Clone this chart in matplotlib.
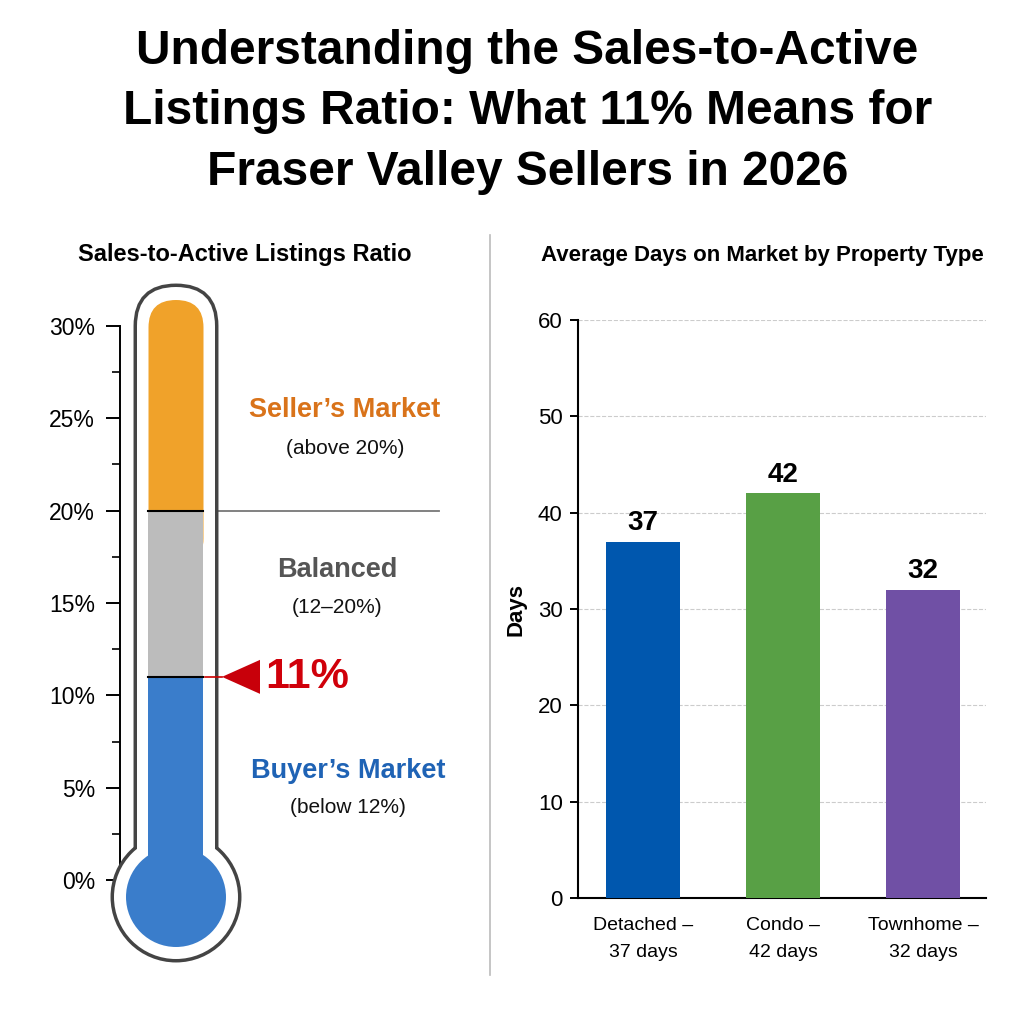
import matplotlib
matplotlib.use('Agg')
import matplotlib.pyplot as plt
from matplotlib.patches import FancyBboxPatch, Circle, Rectangle, Polygon
from matplotlib.lines import Line2D

plt.rcParams['font.family'] = ['Liberation Sans Narrow', 'Liberation Sans', 'DejaVu Sans']

# datos
ratio_actual = 11
zona_comprador = 12
zona_vendedor = 20
escala_max = 30
ticks_ratio = [0, 5, 10, 15, 20, 25, 30]

tipos = ['Detached –\n37 days', 'Condo –\n42 days', 'Townhome –\n32 days']
dias = [37, 42, 32]
colores = ['#0057ae', '#58a045', '#7050a5']
ticks_dias = [0, 10, 20, 30, 40, 50, 60]

fig = plt.figure(figsize=(10.24, 10.24), dpi=100)
fig.patch.set_facecolor('white')


def caja(x0, y0, x1, y1):
    # pixeles -> fraccion de figura
    return [x0 / 1024, 1 - y1 / 1024, (x1 - x0) / 1024, (y1 - y0) / 1024]


fig.text(0.515, 1 - 112 / 1024,
         'Understanding the Sales-to-Active\nListings Ratio: What 11% Means for\nFraser Valley Sellers in 2026',
         ha='center', va='center', fontsize=34.5, fontweight='bold', linespacing=1.44,
         family=['Liberation Sans', 'DejaVu Sans'])

# ---------------- termometro ----------------
ax = fig.add_axes(caja(40, 270, 470, 970))
px = 1 / 18.467  # unidades por pixel
ax.set_xlim(-80 * px, 350 * px)
ax.set_ylim(-90 * px, escala_max + 56 * px)
for s in ['top', 'right', 'bottom']:
    ax.spines[s].set_visible(False)
ax.spines['left'].set_position(('data', 0))
ax.spines['left'].set_bounds(0, escala_max)
ax.spines['left'].set_linewidth(1.4)
ax.set_xticks([])
ax.set_yticks(ticks_ratio)
ax.set_yticklabels([f'{t}%' for t in ticks_ratio], fontsize=16.5)
ax.set_yticks([t + 2.5 for t in ticks_ratio[:-1]], minor=True)
ax.tick_params(axis='y', which='major', length=10, width=1.4, pad=8)
ax.tick_params(axis='y', which='minor', length=6, width=1.2)

cx = 56 * px
cy_bulbo = -17 * px
medio_ext = 39 * px
medio_int = 27.5 * px
tope_ext = escala_max + 39 * px
tope_int = escala_max + 26 * px
r_ext = 62 * px
r_int = 50 * px

# contorno: trazo grueso y luego relleno blanco encima
tubo = dict(xy=(cx - medio_ext, cy_bulbo), width=2 * medio_ext, height=tope_ext - cy_bulbo,
            boxstyle=f'round,pad=0,rounding_size={medio_ext}')
ax.add_patch(FancyBboxPatch(**tubo, facecolor='white', edgecolor='#444444', lw=5, zorder=3))
ax.add_patch(Circle((cx, cy_bulbo), r_ext, facecolor='white', edgecolor='#444444', lw=5, zorder=3))
ax.add_patch(FancyBboxPatch(**tubo, facecolor='white', edgecolor='none', zorder=3.2))
ax.add_patch(Circle((cx, cy_bulbo), r_ext, facecolor='white', edgecolor='none', zorder=3.2))

# relleno por zonas
ax.add_patch(FancyBboxPatch((cx - medio_int, zona_vendedor - 3), 2 * medio_int, tope_int - zona_vendedor + 3,
                            boxstyle=f'round,pad=0,rounding_size={medio_int}',
                            facecolor='#f0a22a', edgecolor='none', zorder=4))
ax.add_patch(Rectangle((cx - medio_int, ratio_actual), 2 * medio_int, zona_vendedor - ratio_actual,
                       facecolor='#bcbcbc', edgecolor='none', zorder=5))
ax.add_patch(Rectangle((cx - medio_int, cy_bulbo), 2 * medio_int, ratio_actual - cy_bulbo,
                       facecolor='#3a7dcb', edgecolor='none', zorder=5))
ax.add_patch(Circle((cx, cy_bulbo), r_int, facecolor='#3a7dcb', edgecolor='none', zorder=5))
for nivel in [zona_vendedor, ratio_actual]:
    ax.plot([cx - medio_int, cx + medio_int], [nivel, nivel], color='black', lw=1.5, zorder=6)

# linea de 20%
ax.plot([97 * px, 319 * px], [zona_vendedor, zona_vendedor], color='#777777', lw=1.3, zorder=2)

# marcador del valor actual
ax.plot([85 * px, 102 * px], [ratio_actual, ratio_actual], color='#cc0000', lw=1.2, zorder=6)
ax.add_patch(Polygon([(102 * px, ratio_actual), (140 * px, ratio_actual + 17 * px),
                      (140 * px, ratio_actual - 17 * px)], closed=True,
                     facecolor='#c8000a', edgecolor='none', zorder=6))
ax.text(145 * px, ratio_actual, f'{ratio_actual}%', color='#d0000a', fontsize=31,
        fontweight='bold', ha='left', va='center')

xt = 225 * px
ax.text(xt, 25.45, 'Seller’s Market', color='#d9731a', fontsize=19.5, fontweight='bold', ha='center', va='center')
ax.text(xt, 23.35, f'(above {zona_vendedor}%)', color='#111111', fontsize=15, ha='center', va='center')
ax.text(xt - 8 * px, 16.8, 'Balanced', color='#555555', fontsize=19.5, fontweight='bold', ha='center', va='center')
ax.text(xt - 8 * px, 14.75, f'({zona_comprador}–{zona_vendedor}%)', color='#111111', fontsize=15, ha='center', va='center')
ax.text(xt + 3 * px, 5.9, 'Buyer’s Market', color='#1f63b5', fontsize=19.5, fontweight='bold', ha='center', va='center')
ax.text(xt + 3 * px, 3.9, f'(below {zona_comprador}%)', color='#111111', fontsize=15, ha='center', va='center')

fig.text(245 / 1024, 1 - 255 / 1024, 'Sales-to-Active Listings Ratio', ha='center', va='center',
         fontsize=17, fontweight='bold')

# separador
fig.add_artist(Line2D([490 / 1024, 490 / 1024], [1 - 235 / 1024, 1 - 975 / 1024], color='#bbbbbb', lw=1.2))

# ---------------- barras ----------------
ax2 = fig.add_axes(caja(578, 320, 986, 898))
pos = list(range(len(dias)))
ax2.bar(pos, dias, width=0.535, color=colores, zorder=3)
for p, v in zip(pos, dias):
    ax2.text(p, v + 0.6, str(v), ha='center', va='bottom', fontsize=20, fontweight='bold')
ax2.set_xlim(-0.464, 2.45)
ax2.set_ylim(0, 60)
ax2.set_yticks(ticks_dias)
ax2.set_yticklabels([str(t) for t in ticks_dias], fontsize=16)
ax2.set_xticks(pos)
ax2.set_xticklabels(tipos, fontsize=14, linespacing=1.75)
ax2.tick_params(axis='y', length=6, width=1.4, pad=5)
ax2.tick_params(axis='x', length=0, pad=14)
ax2.grid(axis='y', linestyle='--', color='#cccccc', lw=0.8, zorder=0)
for s in ['top', 'right']:
    ax2.spines[s].set_visible(False)
for s in ['left', 'bottom']:
    ax2.spines[s].set_linewidth(1.5)
ax2.set_ylabel('Days', fontsize=16, fontweight='bold')
ax2.yaxis.set_label_coords(-0.125, 0.5)

fig.text(762 / 1024, 1 - 256 / 1024, 'Average Days on Market by Property Type', ha='center', va='center',
         fontsize=16, fontweight='bold')

fig.savefig('out.png', dpi=100)
